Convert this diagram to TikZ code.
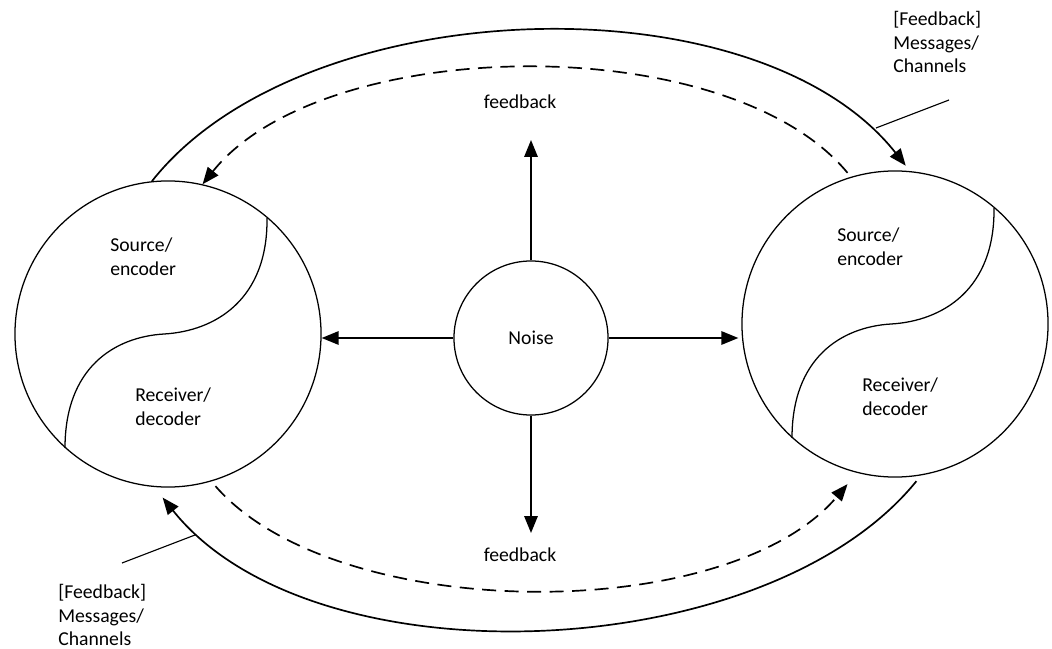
\documentclass[tikz,border=0pt]{standalone}
\usepackage{fontspec}
\setmainfont{Carlito}
\usetikzlibrary{calc}
\usetikzlibrary{arrows.meta}
\tikzstyle{disc}=[draw, circle, line width=0.9pt, inner sep=0pt, minimum size=7.65cm]
\tikzstyle{noisedisc}=[draw, circle, line width=0.9pt, inner sep=0pt, minimum size=3.85cm]
\tikzstyle{flow}=[line width=1.2pt, -{Triangle[length=12pt,width=9.5pt]}]
\tikzstyle{feedbackflow}=[flow, dash pattern=on 10pt off 6pt]
\tikzstyle{pointer}=[line width=0.8pt]
\tikzstyle{lbl}=[inner sep=0pt, align=left, font=\fontsize{14}{17}\selectfont]
\newcommand{\drawSplitDisc}[2]{% Syntax: {name}{centre}
  \node[disc] (#1) at (#2) {};
  \draw[line width=0.9pt] ($(#1)+(99,-116)$) .. controls ($(#1)+(100,-35)$) and ($(#1)+(48,-3)$) .. ($(#1)+(-4,0)$)
    .. controls ($(#1)+(-54,3)$) and ($(#1)+(-103,34)$) .. ($(#1)+(-103,114)$);
  \node[lbl, anchor=west] at ($(#1)+(-58,-77)$) {Source/\\encoder};
  \node[lbl, anchor=west] at ($(#1)+(-33,73)$) {Receiver/\\decoder};
}

\begin{document}
\begin{tikzpicture}[x=0.025cm, y=-0.025cm]
  \useasboundingbox (0,0) rectangle (1052,649);
  \drawSplitDisc{left}{168,334}
  \drawSplitDisc{right}{895,324}
  \node[noisedisc] (noise) at (531,338) {};
  \node[lbl] at (noise) {Noise};
  % feedback labels and free ends
  \node[lbl] (fbtop) at (520,102) {feedback};
  \node[lbl] (fbbottom) at (520,555) {feedback};
  \coordinate (uptip) at (531,140);
  \coordinate (downtip) at (531,533);
  % noise arrows
  \draw[flow] (noise.west) -- (noise.west -| left.east);
  \draw[flow] (noise.east) -- ($(noise.east -| right.west)+(-3,0)$);
  \draw[flow] (noise.north) -- (uptip);
  \draw[flow] (noise.south) -- (downtip);
  % messages / channels
  \draw[flow] (left.96) .. controls +(150,-190) and +(-150,-190) .. ($(right.86)+(0,-5)$);
  \draw[feedbackflow] ($(right.108)+(0,-5)$) .. controls +(-120,-145) and +(120,-150) .. (left.77);
  \draw[flow] ($(right.278)+(0,5)$) .. controls +(-150,185) and +(150,188) .. ($(left.268)+(0,10)$);
  \draw[feedbackflow] ($(left.288)+(0,6)$) .. controls +(120,138) and +(-120,142) .. ($(right.252)+(0,14)$);
  % side notes
  \node[lbl, anchor=west] (notetop) at (893,42) {[Feedback]\\Messages/\\Channels};
  \node[lbl, anchor=west] (notebottom) at (58,615) {[Feedback]\\Messages/\\Channels};
  \coordinate (ptop) at (876,128);
  \coordinate (pbottom) at (195,535);
  \draw[pointer] (ptop) -- (949,100);
  \draw[pointer] (122,563) -- (pbottom);
\end{tikzpicture}
\end{document}
